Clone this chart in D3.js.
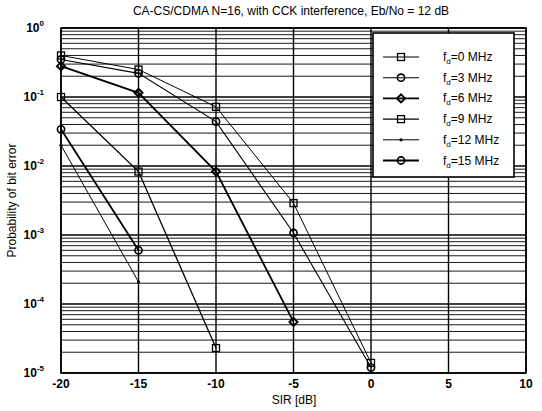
<!DOCTYPE html>
<html>
<head>
<meta charset="utf-8">
<script src="https://cdn.jsdelivr.net/npm/d3@7"></script>
<style>
  body { margin: 0; background: #fff; }
  text { font-family: "Liberation Sans", Arial, sans-serif; fill: #000; }
</style>
</head>
<body>
<div id="chart"></div>
<script>
// SIR points (dB) and BER per Doppler value
var sir = [-20, -15, -10, -5, 0];
var fd0  = [0.40, 0.25, 0.072, 0.0029, 1.4e-5];
var fd3  = [0.35, 0.22, 0.044, 0.00107, 1.2e-5];
var fd6  = [0.28, 0.115, 0.0083, 5.5e-5];
var fd9  = [0.10, 0.0083, 2.3e-5];
var fd12 = [0.020, 2.1e-4];
var fd15 = [0.034, 6.0e-4];

var legendLabels = ["0", "3", "6", "9", "12", "15"];
var xTicks = [-20, -15, -10, -5, 0, 5, 10];
var yDecades = [0, -1, -2, -3, -4, -5];

var series = [
  {vals: fd0,  marker: "square",  lw: 1.0},
  {vals: fd3,  marker: "circle",  lw: 1.1},
  {vals: fd6,  marker: "diamond", lw: 1.8},
  {vals: fd9,  marker: "square",  lw: 1.3},
  {vals: fd12, marker: "point",   lw: 1.0},
  {vals: fd15, marker: "circle",  lw: 1.8}
];

var W = 542, H = 411;
var pLeft = 61, pRight = 526, pTop = 28, pBottom = 373;

var svg = d3.select("#chart").append("svg")
    .attr("width", W)
    .attr("height", H);

var x = d3.scaleLinear().domain([-20, 10]).range([pLeft, pRight]);
var y = d3.scaleLog().domain([1e-5, 1]).range([pBottom, pTop]);

var grid = svg.append("g");

// horizontal grid, decades and minor 2..9
var minor = [];
yDecades.forEach(function(e){
    if (e == 0) return;
    for (var k = 2; k <= 9; k++) minor.push(k * Math.pow(10, e));
});
grid.selectAll("line.minor").data(minor).enter().append("line")
    .attr("x1", pLeft).attr("x2", pRight)
    .attr("y1", function(d){ return y(d); })
    .attr("y2", function(d){ return y(d); })
    .attr("stroke", "#1a1a1a").attr("stroke-width", 1);

grid.selectAll("line.dec").data(yDecades).enter().append("line")
    .attr("x1", pLeft).attr("x2", pRight)
    .attr("y1", function(d){ return y(Math.pow(10, d)); })
    .attr("y2", function(d){ return y(Math.pow(10, d)); })
    .attr("stroke", "#000").attr("stroke-width", 1.3);

grid.selectAll("line.v").data(xTicks).enter().append("line")
    .attr("x1", function(d){ return x(d); })
    .attr("x2", function(d){ return x(d); })
    .attr("y1", pTop).attr("y2", pBottom)
    .attr("stroke", "#000").attr("stroke-width", 1.4);

svg.append("rect")
    .attr("x", pLeft).attr("y", pTop)
    .attr("width", pRight - pLeft).attr("height", pBottom - pTop)
    .attr("fill", "none").attr("stroke", "#000").attr("stroke-width", 1.6);

// x axis labels
svg.append("g").selectAll("text").data(xTicks).enter().append("text")
    .attr("x", function(d){ return x(d); })
    .attr("y", pBottom + 15)
    .attr("text-anchor", "middle")
    .style("font-size", "12px").style("font-weight", "bold")
    .text(function(d){ return d; });

// y axis labels 10^n
var yl = svg.append("g").selectAll("text").data(yDecades).enter().append("text")
    .attr("x", pLeft - 17)
    .attr("y", function(d){ return y(Math.pow(10, d)) + 4; })
    .attr("text-anchor", "end")
    .style("font-size", "12px").style("font-weight", "bold");
yl.append("tspan").text("10");
yl.append("tspan").attr("dy", -6).style("font-size", "8px").text(function(d){ return d; });

svg.append("text")
    .attr("x", 291).attr("y", 15)
    .attr("text-anchor", "middle")
    .style("font-size", "12px")
    .text("CA-CS/CDMA N=16, with CCK interference, Eb/No = 12 dB");

svg.append("text")
    .attr("x", 294).attr("y", 404)
    .attr("text-anchor", "middle")
    .style("font-size", "12px")
    .text("SIR [dB]");

svg.append("text")
    .attr("transform", "translate(16," + ((pTop + pBottom) / 2) + ") rotate(-90)")
    .attr("text-anchor", "middle")
    .style("font-size", "12px")
    .text("Probability of bit error");

var line = d3.line()
    .x(function(d, i){ return x(sir[i]); })
    .y(function(d){ return y(d); });

function drawMarker(g, type, cx, cy) {
    if (type == "square") {
        g.append("rect").attr("x", cx - 3.5).attr("y", cy - 3.5)
            .attr("width", 7).attr("height", 7)
            .attr("fill", "none").attr("stroke", "#000").attr("stroke-width", 1.3);
    } else if (type == "circle") {
        g.append("circle").attr("cx", cx).attr("cy", cy).attr("r", 3.6)
            .attr("fill", "none").attr("stroke", "#000").attr("stroke-width", 1.6);
    } else if (type == "diamond") {
        g.append("path")
            .attr("d", "M" + cx + "," + (cy - 4) + "L" + (cx + 4) + "," + cy +
                       "L" + cx + "," + (cy + 4) + "L" + (cx - 4) + "," + cy + "Z")
            .attr("fill", "none").attr("stroke", "#000").attr("stroke-width", 2);
    } else {
        g.append("circle").attr("cx", cx).attr("cy", cy).attr("r", 1.6).attr("fill", "#000");
    }
}

var plot = svg.append("g");
series.forEach(function(s){
    plot.append("path")
        .attr("d", line(s.vals))
        .attr("fill", "none").attr("stroke", "#000")
        .attr("stroke-width", s.lw);
    s.vals.forEach(function(v, i){
        drawMarker(plot, s.marker, x(sir[i]), y(v));
    });
});

// legend
var lx = 373, ly = 33, lw = 141, lh = 144;
var leg = svg.append("g");
leg.append("rect")
    .attr("x", lx).attr("y", ly).attr("width", lw).attr("height", lh)
    .attr("fill", "#fff").attr("stroke", "#000").attr("stroke-width", 1.6);

series.forEach(function(s, i){
    var ry = 57 + i * 20.7;
    leg.append("line")
        .attr("x1", 383).attr("x2", 419).attr("y1", ry).attr("y2", ry)
        .attr("stroke", "#000").attr("stroke-width", s.lw);
    drawMarker(leg, s.marker, 401, ry);
    var t = leg.append("text")
        .attr("x", 443).attr("y", ry + 4)
        .style("font-size", "12px");
    t.append("tspan").text("f");
    t.append("tspan").attr("dy", 3).style("font-size", "8px").text("d");
    t.append("tspan").attr("dy", -3).text("=" + legendLabels[i] + " MHz");
});
</script>
</body>
</html>
